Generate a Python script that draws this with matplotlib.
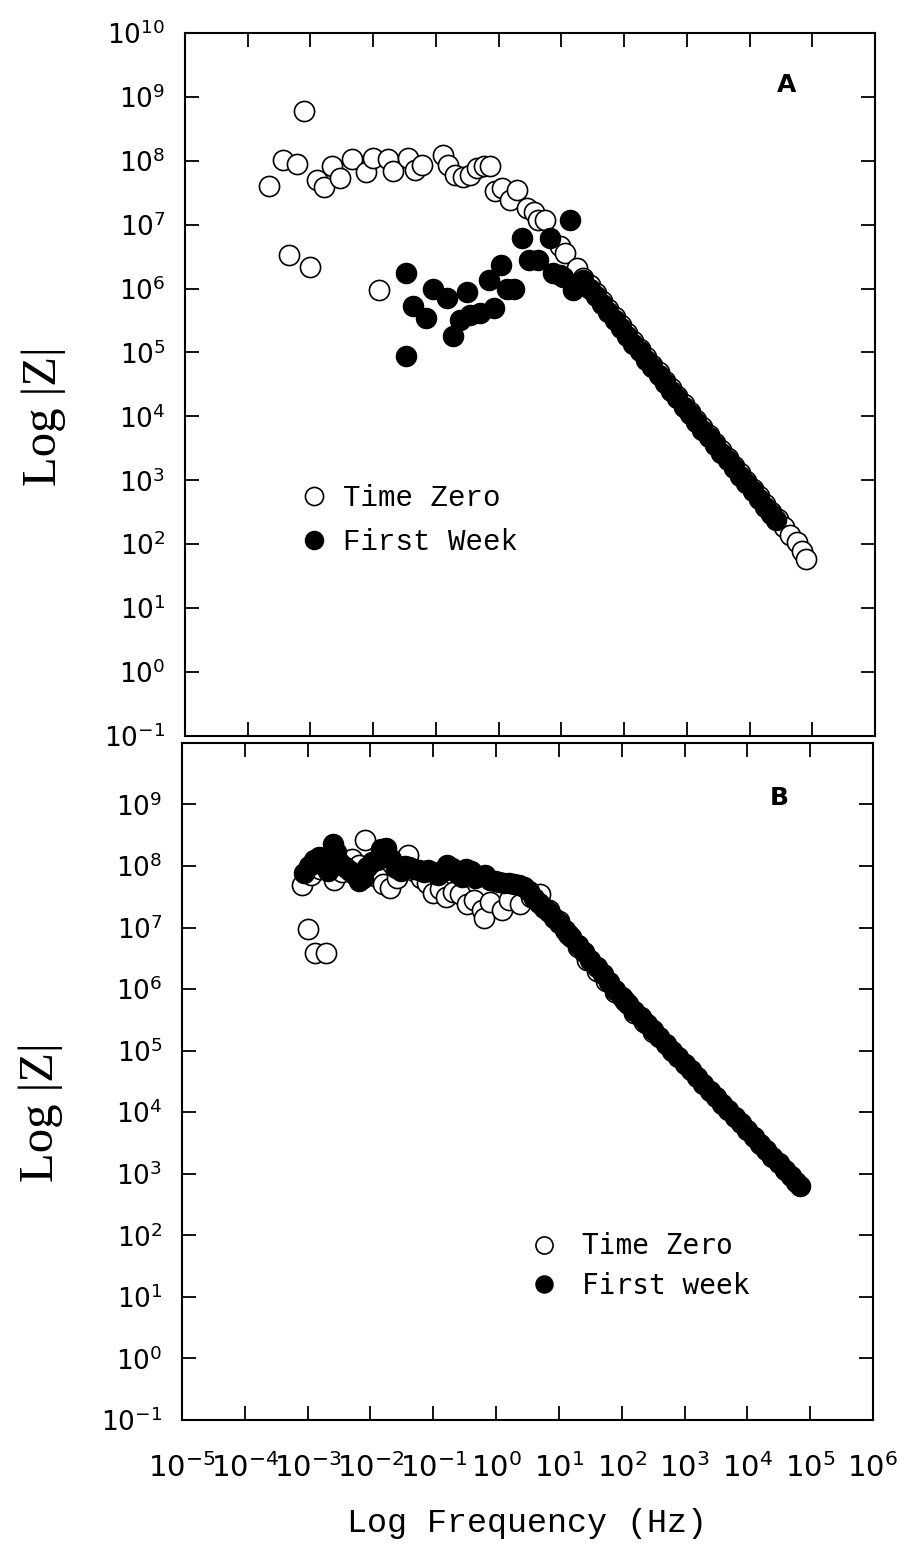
import matplotlib
matplotlib.use("Agg")
import matplotlib.pyplot as plt

# log10 frequency (Hz) / log10 |Z|

# panel A, time zero (open circles)
a_zero_f = [-3.66, -3.43, -3.22, -3.10, -3.34, -3.01, -2.89, -2.78, -2.66, -2.53,
            -2.33, -2.12, -2.00, -1.76, -1.68, -1.44, -1.33, -1.22, -1.90, -0.89,
            -0.80, -0.69, -0.57, -0.45, -0.35, -0.24, -0.14, -0.06, 0.05, 0.18,
            0.29, 0.45, 0.56, 0.63, 0.74, 0.98, 1.06, 1.25,
            1.35, 1.45, 1.55, 1.65, 1.75, 1.85, 1.95, 2.05, 2.15, 2.25,
            2.35, 2.45, 2.55, 2.65, 2.75, 2.85, 2.95, 3.05, 3.15, 3.25,
            3.35, 3.45, 3.55, 3.65, 3.75, 3.85, 3.95, 4.05, 4.15, 4.25,
            4.35, 4.45, 4.55, 4.65, 4.75, 4.83, 4.90]
a_zero_z = [7.61, 8.01, 7.95, 8.78, 6.53, 6.33, 7.70, 7.59, 7.92, 7.73,
            8.02, 7.83, 8.04, 8.02, 7.84, 8.05, 7.86, 7.93, 5.98, 8.09,
            7.93, 7.78, 7.75, 7.78, 7.88, 7.91, 7.91, 7.52, 7.57, 7.39,
            7.54, 7.26, 7.20, 7.07, 7.07, 6.66, 6.55, 6.32,
            6.17, 6.05, 5.93, 5.80, 5.68, 5.55, 5.43, 5.30, 5.18, 5.06,
            4.93, 4.81, 4.69, 4.56, 4.44, 4.32, 4.19, 4.07, 3.95, 3.83,
            3.71, 3.59, 3.47, 3.35, 3.23, 3.11, 2.99, 2.87, 2.75, 2.63,
            2.51, 2.39, 2.27, 2.15, 2.03, 1.90, 1.77]

# panel A, first week (filled circles)
a_week_f = [-1.48, -1.37, -1.15, -1.48, -1.04, -0.83, -0.50, -0.72, -0.61, -0.45,
            -0.29, -0.08, -0.16, 0.04, 0.13, 0.24, 0.37, 0.48, 0.63, 0.82,
            1.14, 0.87, 0.98, 1.03, 1.19, 1.25, 1.35,
            1.45, 1.55, 1.65, 1.75, 1.85, 1.95, 2.05, 2.15, 2.25, 2.35,
            2.45, 2.55, 2.65, 2.75, 2.85, 2.95, 3.05, 3.15, 3.25, 3.35,
            3.45, 3.55, 3.65, 3.75, 3.85, 3.95, 4.05, 4.15, 4.25, 4.35, 4.43]
a_week_z = [6.24, 5.72, 5.54, 4.95, 6.00, 5.85, 5.94, 5.25, 5.51, 5.59,
            5.61, 5.69, 6.13, 6.37, 6.00, 6.00, 6.79, 6.45, 6.45, 6.79,
            7.07, 6.24, 6.21, 6.18, 5.98, 6.05, 6.13,
            6.00, 5.89, 5.76, 5.64, 5.51, 5.39, 5.26, 5.14, 5.02, 4.89,
            4.77, 4.65, 4.52, 4.40, 4.28, 4.15, 4.03, 3.91, 3.79, 3.67,
            3.55, 3.43, 3.31, 3.19, 3.07, 2.95, 2.83, 2.71, 2.59, 2.47, 2.38]

# panel B, time zero
b_zero_f = [-3.09, -2.99, -2.88, -2.70, -2.95, -2.80, -2.58, -2.45, -2.30, -2.19,
            -2.09, -2.00, -1.90, -1.80, -1.69, -1.58, -1.50, -1.40, -1.30, -1.20,
            -1.10, -1.00, -0.90, -0.79, -0.68, -0.58, -0.47, -0.35, -0.23, -0.20,
            -0.10, 0.09, 0.20, 0.38, 0.55, 0.70, 0.85, 1.00,
            1.15, 1.30, 1.45, 1.60, 1.75, 1.90, 2.05, 2.20, 2.35, 2.50]
b_zero_z = [7.69, 6.97, 6.58, 6.59, 7.85, 7.95, 7.77, 7.90, 8.12, 8.02,
            8.42, 7.95, 7.82, 7.70, 7.64, 7.80, 7.95, 8.18, 7.92, 7.80,
            7.72, 7.56, 7.62, 7.50, 7.58, 7.55, 7.39, 7.45, 7.28, 7.15,
            7.42, 7.28, 7.45, 7.39, 7.50, 7.54, 7.28, 7.10,
            6.90, 6.68, 6.47, 6.30, 6.13, 5.96, 5.80, 5.62, 5.46, 5.30]

# panel B, first week
b_week_f = [-3.05, -2.98, -2.90, -2.82, -2.75, -2.68, -2.60, -2.55, -2.48, -2.40,
            -2.32, -2.25, -2.18, -2.12, -2.05, -1.98, -1.90, -1.83, -1.75, -1.68,
            -1.60, -1.52, -1.45, -1.38, -1.30, -1.22, -1.15, -1.08, -1.00, -0.92,
            -0.85, -0.78, -0.70, -0.62, -0.55, -0.48, -0.40, -0.33, -0.25, -0.18,
            -0.10, -0.02, 0.05, 0.13, 0.20, 0.28, 0.36, 0.44, 0.52, 0.60,
            0.68, 0.76, 0.84, 0.92, 1.00, 1.10, 1.20, 1.30, 1.40, 1.50,
            1.60, 1.70, 1.80, 1.90, 2.00, 2.10, 2.20, 2.30, 2.40, 2.50,
            2.60, 2.70, 2.80, 2.90, 3.00, 3.10, 3.20, 3.30, 3.40, 3.50,
            3.60, 3.70, 3.80, 3.90, 4.00, 4.10, 4.20, 4.30, 4.40, 4.50,
            4.60, 4.70, 4.78, 4.84]
b_week_z = [7.88, 8.00, 8.10, 8.15, 8.02, 7.92, 8.35, 8.22, 8.05, 7.98,
            7.92, 7.85, 7.76, 7.80, 7.98, 8.06, 8.10, 8.28, 8.30, 8.12,
            7.96, 7.92, 8.00, 7.98, 7.95, 7.93, 7.90, 7.94, 7.90, 7.86,
            7.92, 8.02, 7.96, 7.88, 7.82, 7.95, 7.92, 7.80, 7.84, 7.86,
            7.78, 7.75, 7.74, 7.72, 7.72, 7.70, 7.69, 7.66, 7.60, 7.48,
            7.40, 7.32, 7.25, 7.16, 7.08, 6.96, 6.85, 6.72, 6.60, 6.48,
            6.36, 6.24, 6.12, 5.99, 5.87, 5.76, 5.65, 5.54, 5.43, 5.33,
            5.22, 5.11, 5.00, 4.89, 4.79, 4.68, 4.57, 4.46, 4.35, 4.25,
            4.14, 4.03, 3.92, 3.82, 3.71, 3.60, 3.49, 3.38, 3.28, 3.17,
            3.06, 2.96, 2.87, 2.80]

y_exps = list(range(-1, 11))
x_exps = list(range(-5, 7))


def tolin(v):
    return [10 ** e for e in v]


fig = plt.figure(figsize=(9.05, 15.52), dpi=100)
axA = fig.add_axes([0.2044, 0.5258, 0.7624, 0.4530])
axB = fig.add_axes([0.2011, 0.0851, 0.7635, 0.4362])

for ax, zf, zz, wf, wz in [(axA, a_zero_f, a_zero_z, a_week_f, a_week_z),
                           (axB, b_zero_f, b_zero_z, b_week_f, b_week_z)]:
    ax.plot(tolin(zf), tolin(zz), 'o', ms=14.5, mfc='white', mec='black', mew=1.2,
            label='Time Zero', zorder=2)
    ax.plot(tolin(wf), tolin(wz), 'o', ms=14.5, mfc='black', mec='black', mew=1.0,
            label='First Week', zorder=3)
    ax.set_xscale('log')
    ax.set_yscale('log')
    ax.set_xlim(1e-5, 1e6)
    ax.set_ylim(1e-1, 1e10)
    ax.set_xticks(tolin(x_exps))
    ax.set_yticks(tolin(y_exps))
    ax.minorticks_off()
    ax.tick_params(which='major', direction='in', length=10, width=1.3,
                   top=True, right=True)
    for s in ax.spines.values():
        s.set_linewidth(1.5)
    ax.set_ylabel('Log |Z|', family='Liberation Serif', fontsize=35)
    ax.yaxis.set_label_coords(-0.172, 0.455)

ylab = [r'$\mathregular{10^{%d}}$' % e for e in y_exps]
axA.set_yticklabels(ylab, family='DejaVu Sans', fontsize=19)
axB.set_yticklabels(ylab[:-1] + [''], family='DejaVu Sans', fontsize=19)
axA.tick_params(axis='y', pad=14)
axB.tick_params(axis='y', pad=14)
axA.set_xticklabels([])
axB.set_xticklabels([r'$\mathregular{10^{%d}}$' % e for e in x_exps],
                    family=['Liberation Sans Narrow', 'DejaVu Sans'], fontsize=21)
axB.tick_params(axis='x', pad=24)
axB.set_xlabel('Log Frequency (Hz)', family='Liberation Mono', fontsize=24, labelpad=18)

axA.text(0.872, 0.926, 'A', transform=axA.transAxes, fontsize=18,
         fontweight='bold', ha='center', va='center')
axB.text(0.865, 0.919, 'B', transform=axB.transAxes, fontsize=18,
         fontweight='bold', ha='center', va='center')

axA.legend(loc='upper left', bbox_to_anchor=(0.168, 0.358), frameon=False,
           prop={'family': 'Liberation Mono', 'size': 21}, markerscale=0.9,
           handlelength=0.9, handletextpad=0.55, labelspacing=0.55,
           borderpad=0, borderaxespad=0)
hB = axB.get_legend_handles_labels()[0]
axB.legend(hB, ['Time Zero', 'First week'], loc='upper left',
           bbox_to_anchor=(0.506, 0.277), frameon=False,
           prop={'family': 'DejaVu Sans Mono', 'size': 20}, markerscale=0.85,
           handlelength=0.9, handletextpad=0.9, labelspacing=0.4,
           borderpad=0, borderaxespad=0)

fig.savefig('out.png', dpi=100)
